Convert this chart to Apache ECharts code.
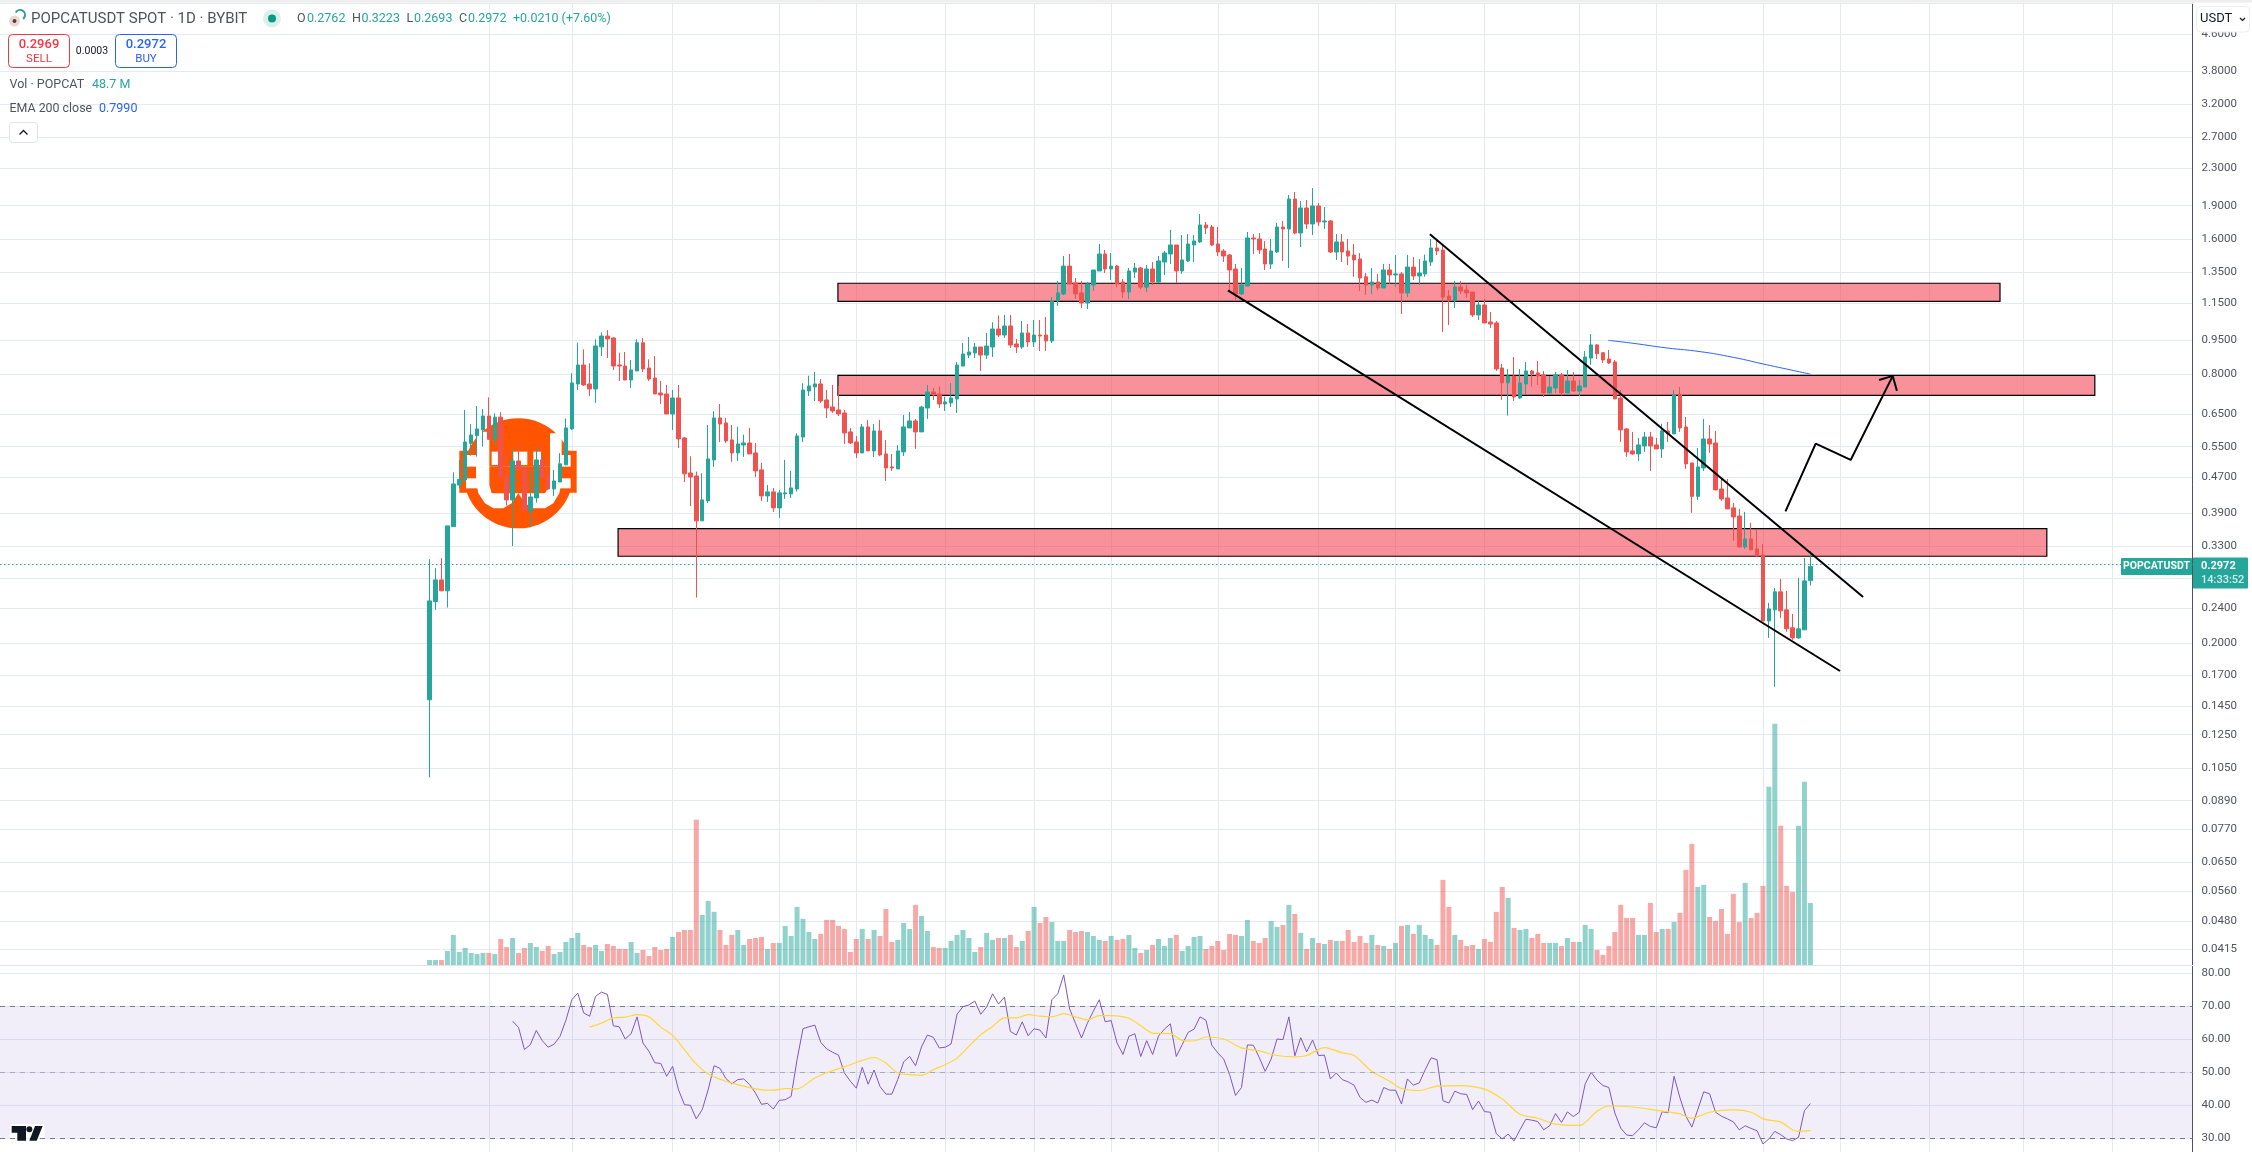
<!DOCTYPE html>
<html>
<head>
<meta charset="utf-8">
<style>html,body{margin:0;padding:0;background:#fff}#container{width:2252px;height:1152px}</style>
<script src="https://cdn.jsdelivr.net/npm/echarts@6/dist/echarts.min.js"></script>
</head>
<body>
<div id="container"></div>
<script>
// daily candles (first candle = day 0)
var opens=[.1496,.2480,.2772,.2620,.3646,.4517,.4636,.5598,.5823,.5996,
.6441,.5724,.6404,.4714,.4183,.5113,.4906,.3954,.4226,.5139,
.4730,.4426,.4588,.5010,.6027,.7595,.8373,.7595,.7403,.9194,
.9718,.9622,.8373,.8329,.7753,.8121,.9390,.8247,.7832,.7252,
.7214,.6509,.7067,.5754,.4806,.4730,.3756,.4162,.5139,.6377,
.6215,.5695,.5327,.5549,.5607,.5327,.4881,.4270,.4359,.4015,
.4315,.4315,.4426,.5782,.7327,.7478,.7595,.6996,.6747,.6645,
.6543,.5935,.5636,.5327,.6089,.5382,.5965,.5300,.4958,.4906,
.5355,.6058,.6280,.5935,.6713,.7289,.7214,.6852,.6890,.7031,
.8329,.8814,.8908,.9186,.8814,.9186,1.0079,.9770,1.0236,.9329,
.9186,.9873,.9427,.9770,.9770,.9475,1.1640,1.2068,1.3930,1.2770,
1.2130,1.1520,1.2640,1.3583,1.4822,1.3723,1.3930,1.2835,1.2192,1.3513,
1.3793,1.2500,1.3723,1.2835,1.4225,1.4822,1.5526,1.3583,1.4300,1.5526,
1.5770,1.7210,1.7030,1.5607,1.5055,1.4745,1.3723,1.2068,1.2570,1.6095,
1.6013,1.5210,1.4080,1.4977,1.7030,1.6858,1.9670,1.6513,1.8780,1.7300,
1.8975,1.7477,1.7567,1.4977,1.5770,1.5055,1.4745,1.4446,1.3180,1.2640,
1.2835,1.2445,1.3653,1.3307,1.3380,1.2130,1.3860,1.3240,1.3380,1.4225,
1.5290,1.5132,1.1940,1.1640,1.2500,1.2318,1.2192,1.0834,1.1405,1.0448,
1.0395,.8247,.7640,.7912,.7068,.7594,.8121,.8039,.7955,.7252,
.7440,.7955,.7252,.7713,.7327,.7477,.8680,.9285,.8920,.8636,
.8505,.7068,.6027,.5382,.5300,.5522,.5783,.5550,.5438,.5965,
.5875,.7176,.6087,.5060,.4260,.4931,.5724,.5607,.4426,.4226,
.4015,.3851,.3285,.3422,.3252,.3152,.2245,.2376,.2607,.2376,
.2166,.2057,.2144,.2762];
var highs=[.3084,.2944,.3099,.3660,.4822,.5139,.6645,.6172,.6781,.6679,
.7088,.6531,.6565,.5410,.5438,.5588,.4923,.4881,.5484,.5598,
.5182,.4881,.5320,.6361,.8024,.9394,.9077,.8447,.9558,.9907,
1.0027,.9664,.8923,.8953,.8593,.9558,.9622,.8622,.8768,.7713,
.7557,.7365,.7557,.5782,.5237,.4840,.4798,.6149,.6599,.6852,
.6377,.6149,.6096,.5852,.6058,.5607,.5061,.4517,.4449,.4404,
.5139,.4856,.5897,.7621,.7926,.8079,.7793,.7365,.7557,.7517,
.6645,.6058,.5813,.6183,.6312,.6183,.6312,.5695,.5300,.5549,
.6473,.6577,.6344,.6781,.7557,.7441,.7491,.7113,.7634,.8507,
.9378,.9671,.9378,.9186,.9873,1.0434,1.0805,1.0834,1.0834,.9573,
1.0502,1.0339,1.0556,1.0556,1.0717,1.1880,1.2902,1.4668,1.4822,1.3100,
1.2902,1.2835,1.3653,1.5607,1.5132,1.4900,1.4000,1.3035,1.3793,1.4153,
1.3860,1.4000,1.4225,1.4668,1.5055,1.6772,1.5526,1.6343,1.6427,1.6343,
1.8210,1.7477,1.7210,1.7030,1.5210,1.4822,1.4080,1.3793,1.6600,1.6427,
1.6513,1.5850,1.6013,1.7390,1.7567,2.0080,2.0395,1.9470,1.9570,2.0815,
1.9270,1.8880,1.7657,1.6427,1.6427,1.6013,1.5607,1.4900,1.3443,1.3793,
1.3380,1.4080,1.4080,1.4745,1.3513,1.4745,1.4590,1.4446,1.4770,1.6013,
1.5931,1.5450,1.2318,1.2902,1.2902,1.2640,1.2192,1.1700,1.1760,1.0997,
1.0502,.8418,.8205,.8726,.8205,.8505,.8163,.8549,.8121,.7912,
.8079,.8039,.8163,.8079,.7753,.9000,.9815,.9320,.8920,.9047,
.8593,.7365,.6057,.5935,.5754,.5935,.5935,.5754,.6191,.6248,
.7365,.7477,.6408,.5060,.5465,.6345,.6148,.5965,.4660,.4660,
.4119,.3994,.3934,.3719,.3585,.3335,.2463,.2660,.2786,.2620,
.2327,.2800,.3104,.3223];
var lows=[.1004,.2376,.2620,.2405,.3646,.4442,.4596,.5253,.5227,.5500,
.5695,.5549,.4636,.4061,.3300,.4840,.3940,.3632,.4126,.4674,
.4404,.4270,.4588,.5010,.5996,.7365,.7517,.7138,.6890,.8768,
.8681,.8163,.7713,.7753,.7441,.8121,.8079,.7713,.7214,.6852,
.6509,.5996,.5465,.4588,.4052,.2531,.3756,.4119,.4958,.5636,
.5607,.5087,.5113,.5218,.5300,.4706,.4162,.4140,.3933,.3814,
.4205,.4226,.4367,.5636,.7138,.6960,.6890,.6377,.6543,.6441,
.5578,.5578,.5191,.5327,.5382,.5218,.5243,.4612,.4856,.4906,
.5243,.6058,.5438,.5935,.6344,.6996,.6713,.6611,.6747,.6543,
.8329,.8681,.8681,.8121,.8637,.8727,.9671,.9622,.9140,.8908,
.9094,.9186,.9186,.9000,.9000,.9378,1.1350,1.2006,1.2640,1.1760,
1.1227,1.1170,1.2255,1.3583,1.3443,1.2968,1.2480,1.1820,1.1760,1.3100,
1.2380,1.2192,1.2640,1.2770,1.3307,1.4080,1.2770,1.3380,1.4225,1.4225,
1.5690,1.6427,1.5450,1.4668,1.4225,1.2192,1.1700,1.2006,1.2570,1.4822,
1.4822,1.3653,1.3723,1.4900,1.4300,1.3793,1.6427,1.5365,1.6858,1.6343,
1.7130,1.6858,1.4900,1.4373,1.4225,1.4000,1.3180,1.2255,1.2006,1.2068,
1.2318,1.2445,1.2706,1.2530,1.0890,1.1880,1.2968,1.2640,1.3180,1.3930,
1.4745,.9925,1.0285,1.1227,1.2068,1.1820,1.0717,1.0556,1.0395,1.0130,
.8121,.6996,.6455,.6960,.7032,.7214,.7490,.7555,.7103,.7214,
.7252,.7160,.7252,.7290,.7140,.7477,.8378,.8636,.8460,.8420,
.7032,.5637,.5220,.5272,.5113,.5355,.4856,.5438,.5191,.5637,
.5875,.5935,.4906,.3913,.4183,.4856,.5327,.4404,.4162,.3994,
.3388,.3269,.3252,.3235,.3120,.2245,.2057,.1599,.2280,.2122,
.2036,.2047,.2144,.2693];
var closes=[.2488,.2772,.2620,.3660,.4541,.4652,.5636,.5842,.6027,.6441,
.5715,.6404,.4714,.4183,.5113,.4881,.3954,.4247,.5139,.4698,
.4426,.4612,.5036,.6058,.7634,.8373,.7557,.7403,.9232,.9718,
.9573,.8329,.8329,.7753,.8163,.9390,.8205,.7793,.7214,.7176,
.6509,.7067,.5724,.4783,.4706,.3756,.4183,.5165,.6377,.6183,
.5666,.5327,.5578,.5607,.5300,.4856,.4270,.4359,.4015,.4337,
.4337,.4449,.5813,.7365,.7517,.7595,.6960,.6713,.6611,.6509,
.5904,.5607,.5327,.6089,.5382,.5965,.5272,.4930,.4930,.5382,
.6089,.6280,.5935,.6747,.7289,.7176,.6852,.6925,.7067,.8373,
.8861,.8954,.9186,.8814,.9231,1.0079,.9770,1.0236,.9280,.9186,
.9873,.9427,.9770,.9720,.9475,1.1640,1.2130,1.3930,1.2706,1.2068,
1.1520,1.2706,1.3653,1.4822,1.3723,1.3930,1.2706,1.2192,1.3583,1.3793,
1.2500,1.3723,1.2835,1.4300,1.4900,1.5526,1.3583,1.4373,1.5607,1.5850,
1.7210,1.6945,1.5526,1.4977,1.4668,1.3653,1.2068,1.2640,1.6095,1.6013,
1.5132,1.4080,1.5055,1.7030,1.6858,1.9670,1.6513,1.8780,1.7300,1.8975,
1.7477,1.7567,1.4977,1.5770,1.4977,1.4668,1.4373,1.3100,1.2640,1.2835,
1.2445,1.3653,1.3307,1.3380,1.2130,1.3860,1.3240,1.3443,1.4300,1.5290,
1.5055,1.1880,1.1640,1.2500,1.2255,1.2130,1.0834,1.1405,1.0395,1.0339,
.8205,.7640,.7915,.7103,.7634,.8121,.7998,.7912,.7252,.7477,
.7955,.7252,.7713,.7327,.7517,.8726,.9285,.8875,.8593,.8460,
.7032,.5996,.5355,.5300,.5550,.5783,.5522,.5438,.5965,.5875,
.7176,.6057,.5035,.4260,.4956,.5724,.5578,.4404,.4205,.3994,
.3832,.3285,.3422,.3235,.3136,.2245,.2388,.2607,.2364,.2155,
.2057,.2155,.2758,.2972];
// volume in millions of POPCAT
var volumes=[3.9,3.9,3.9,11,23.6,10.2,13.4,9.4,8.6,9.4,
9.4,8.6,20.4,14.1,21.2,9.4,13.4,17.3,14.1,11,
14.9,8.6,10.2,18.1,21.2,25.2,15.7,14.1,15.7,11,
16.5,14.9,12.6,12.6,18.1,9.4,11.8,7.1,14.1,11.8,
12.6,22,25.9,27.5,27.5,114,39.3,50.3,41.7,27.5,
15.7,23.6,27.5,15.7,20.4,21.2,22,12.6,17.3,17.3,
30.7,22.8,45.6,36.2,25.9,20.4,24.4,35.4,35.4,30.7,
28.3,10.2,20.4,28.3,20.4,27.5,22.8,44,18.1,19.7,
33,28.3,47.2,38.5,26.7,14.1,13.4,13.4,18.9,23.6,
27.5,21.2,10.2,14.1,25.2,19.7,21.2,21.2,23.6,14.1,
18.9,26.7,45.6,33,37.7,33.8,18.9,18.9,27.5,25.9,
26.7,25.9,22.8,19.7,18.9,22.8,19.7,20.4,23.6,13.4,
9.4,11.8,15.7,20.4,14.9,21.2,23.6,11,14.9,22,
22.8,12.6,14.9,18.9,11.8,24.4,23.6,22.8,35.4,18.9,
17.3,21.2,34.6,29.9,31.4,47.2,40.1,25.2,12.6,21.2,
17.3,16.5,19.7,18.9,18.9,27.5,18.1,22.8,17.3,23.6,
15.7,14.9,12.6,17.3,30.7,31.4,24.4,31.4,23.6,20.4,
15.7,66.8,45.6,23.6,19.7,14.9,15.7,12.6,20.4,18.1,
41.7,61.3,52.7,29.1,27.5,28.3,21.2,24.4,17.3,17.3,
17.3,14.9,21.2,18.1,18.1,31.4,28.3,11.8,7.9,14.9,
25.9,47.2,36.9,36.9,23.6,23.6,48.7,25.9,28.3,28.3,
33.8,40.9,74.7,95.1,61.3,62.9,37.7,34.6,44,24.4,
55.8,33.8,64.5,36.9,40.9,62.1,139.9,189.4,109.3,62.1,
57.4,109.3,143.8,48.7];
// RSI 14, first value belongs to day 14
var rsiStart=14;
var rsiValues=[65.4,63.5,56.8,58.3,62.6,59.5,57.5,58.4,60.8,65.7,
71.9,73.9,67.9,66.9,72.9,74.2,73.5,64,63.7,60,
61.6,66.7,58.8,56.3,52.8,52.6,48.7,51.7,44.6,40.1,
39.9,35.8,38.6,44.6,51.9,51.1,48,46.4,47.7,47.9,
46.2,43.6,40.2,40.5,38.8,41.4,41.6,42.6,53.7,63.1,
63.7,64.2,59,57,56,55.1,49.7,47.2,45.1,51.4,
46.3,50.6,45.6,43.3,43.3,47.7,53.1,54.7,51.9,57.6,
61.2,60.5,57.3,57.5,58.5,67.5,69.8,70.3,71.5,67.5,
69.7,73.7,70.6,72.7,62.3,61.2,65.2,61,63.1,62.7,
60.3,71.9,73.7,79.4,69.1,64.7,60.3,64.8,68.4,71.9,
65.2,65.6,58.8,55.3,60.8,61.6,54.7,59.5,55.3,60.9,
63,64.6,54.7,58.3,62,63,66.7,65.7,58.1,55.8,
53.9,49.2,42.9,45.3,58.2,58.1,54.4,50.2,53.9,60,
59.8,66.7,54.9,60.4,56.1,59.7,55,55.1,47.9,49.7,
47.7,47,46,42.3,40.8,41.5,40.6,45.3,44.5,44.5,
40.3,47.9,46,46.7,50.7,54.3,53.7,41.3,40.6,44.2,
43.4,43.2,38.6,41.2,38,37.8,31.3,29.7,31.2,29.1,
32.5,35.7,35.4,35,32.5,33.7,37.4,34.7,37.9,36.5,
37.8,46.4,49.9,47.5,45.9,45.3,37.6,33,30.9,30.7,
32.5,34.6,33.5,33.1,38,37.6,48.7,42.1,36.6,33.3,
38.6,44,43.4,37.8,36.6,35.8,34.9,32.5,33.7,32.9,
32.2,28.2,29.7,32,31,29.7,29.2,30.2,38.3,40.43];
// RSI moving average, read at these days
var rsiMaDays=[27,29,31,33,35,37,39,41,43,45,47,50,53,56,58,60,62,65,68,71,73,75,77,79,81,83,85,87,89,91,93,95,97,99,101,103,105,107,109,111,113,
115,118,120,122,125,127,129,131,134,137,140,143,146,148,151,154,156,159,162,164,167,170,174,178,181,184,187,190,194,197,199,203,207,211,213,216,220,223,225,228,230,231,233];
var rsiMaValues=[63.6,64.8,66.4,66.6,67.4,66.7,63.6,61.1,56.8,52.4,49.4,47.2,45.7,44.6,44.5,45,44.9,48.2,50.4,52.2,53.5,54.4,52.7,49.7,49.2,49,50.7,52.2,54.2,57.8,61.3,63.8,66.4,66.4,67.4,66.9,66.7,67.7,66.7,65.8,67.1,
67.1,66.3,64,61.8,61.6,59.6,59.4,60.6,60,57.3,56.4,55,54.6,55,57.4,55.8,55,50.2,47.2,45,44.4,45.7,45.9,44.8,41.8,37.2,36,34.2,33.8,38.1,39.7,39.4,38.4,37.3,36,37.8,38.5,37.8,35.8,34.8,32.5,32,32.23];
// EMA 200, only the part that shows
var emaDays=[198.9,203.1,208.8,214.4,220,225.6,233];
var emaValues=[.9507,.9362,.914,.897,.871,.8386,.799];

var priceTicks=[4.6,3.8,3.2,2.7,2.3,1.9,1.6,1.35,1.15,.95,.8,.65,.55,.47,.39,.33,.28,.24,.2,.17,.145,.125,.105,.089,.077,.065,.056,.048,.0415];
var rsiTicks=[30,40,50,60,70,80];
var gridDays=[10,24,41,59,72,87,102,115,133,150,163,178,194,207,225,238,253,269,284];
var lastPrice=.2972;

// drawings: zones [from day, to day, top price, bottom price]
var zones=[[68.9,265,1.275,1.162],[68.9,281,.7938,.7164],[31.8,272.9,.3609,.3131]];
var upperLineDays=[168.8,241.9], upperLinePrices=[1.6405,.2539];
var lowerLineDays=[134.7,238], lowerLinePrices=[1.2297,.1735];
var arrowDays=[228.8,233.9,239.8,246.9], arrowPrices=[.3945,.5587,.5138,.7917];
var arrowHeadDays=[244.6,246.9,247.6], arrowHeadPrices=[.7752,.7917,.7338];

var lead=72, totalBars=370;
var UP='#26a69a', DOWN='#ef5350', GRIDC='#e3ebf1', TXT='#50535e';
var FONT='Roboto, "Liberation Sans", sans-serif';

var categories=[];
for(var i=0;i<totalBars;i++){categories.push(i-lead);}

var candleData=[], volData=[];
for(var i=0;i<lead;i++){candleData.push('-');volData.push('-');}
for(var i=0;i<opens.length;i++){
  candleData.push([opens[i],closes[i],lows[i],highs[i]]);
  volData.push({value:volumes[i],itemStyle:{color:closes[i]>=opens[i]?'rgba(38,166,154,0.5)':'rgba(239,83,80,0.5)'}});
}
function pairs(a,b){
  var r=[];
  for(var i=0;i<a.length;i++){r.push([a[i],b[i]]);}
  return r;
}
var rsiData=[];
for(var i=0;i<rsiValues.length;i++){rsiData.push([rsiStart+i,rsiValues[i]]);}

function drawnLine(days,prices,width){
  return {type:'line',xAxisIndex:1,yAxisIndex:0,data:pairs(days,prices),symbol:'none',silent:true,z:6,
    lineStyle:{color:'#000',width:width||2}};
}

var zoneAreas=[];
for(var i=0;i<zones.length;i++){
  zoneAreas.push([{coord:[zones[i][0],zones[i][2]]},{coord:[zones[i][1],zones[i][3]]}]);
}

var dayAxisMin=-lead-.5, dayAxisMax=totalBars-lead-.5;

function dayAxis(gridIndex,top){
  return {type:'value',gridIndex:gridIndex,min:dayAxisMin,max:dayAxisMax,position:'top',
    axisLine:{show:top,onZero:false,lineStyle:{color:GRIDC}},
    axisTick:{show:false,customValues:gridDays},axisLabel:{show:false,customValues:gridDays},
    splitLine:{show:true,lineStyle:{color:GRIDC,width:1}}};
}

var logoOrange='#ff5500';
function poly(points,color,z){return {type:'polygon',shape:{points:points},style:{fill:color},z:z||1,silent:true};}
function box(x,y,w,h,color){return poly([[x,y],[x+w,y],[x+w,y+h],[x,y+h]],color);}
var logo={type:'group',x:450,y:410,scaleX:1/3,scaleY:1/3,silent:true,children:[
  {type:'circle',shape:{cx:205,cy:190,r:165},style:{fill:logoOrange},z:1},
  box(28,122,72,126,logoOrange),
  box(300,122,80,126,logoOrange),
  box(48,135,40,35,'#fff'),box(48,205,40,30,'#fff'),
  box(325,135,37,35,'#fff'),box(325,205,37,30,'#fff'),
  poly([[78,65],[118,65],[118,170],[300,170],[300,70],[335,70],[335,215],[328,250],[310,280],[285,295],[250,295],[225,280],[205,250],[185,280],[160,295],[130,295],[105,280],[85,250],[78,215]],'#fff'),
  poly([[118,170],[300,170],[300,225],[285,250],[125,250],[118,225]],logoOrange),
  box(125,125,25,40,'#fff'),box(190,125,42,40,'#fff'),box(250,125,25,40,'#fff')
]};
var tvLogo={type:'group',x:0,y:1090,scaleX:1/3,scaleY:1/3,silent:true,children:[
  {type:'rect',shape:{x:30,y:102,width:103,height:42},style:{fill:'#fff'},z:90},
  {type:'polygon',shape:{points:[[35,108],[78,108],[78,152],[52,152],[52,128],[35,128]]},style:{fill:'#131722'},z:91},
  {type:'circle',shape:{cx:88,cy:118,r:9},style:{fill:'#131722'},z:91},
  {type:'polygon',shape:{points:[[105,108],[128,108],[110,152],[88,152]]},style:{fill:'#131722'},z:91}
]};

function txt(x,y,text,color,size,extra){
  var s={x:x,y:y,text:text,fill:color,font:(extra&&extra.weight?extra.weight+' ':'')+size+'px '+FONT,
    textAlign:extra&&extra.align||'left',textVerticalAlign:'middle'};
  return {type:'text',style:s,z:100,silent:true};
}
function rbox(x,y,w,h,r,stroke,fill,lw){
  return {type:'rect',shape:{x:x,y:y,width:w,height:h,r:r},style:{fill:fill||'#fff',stroke:stroke,lineWidth:lw||1},z:99,silent:true};
}
function fill(x,y,w,h,c,r){return {type:'rect',shape:{x:x,y:y,width:w,height:h,r:r||0},style:{fill:c},z:98,silent:true};}

var overlays=[
  fill(0,0,2252,2.5,'#eeeeee'),
  logo,tvLogo,
  // legend block
  {type:'circle',shape:{cx:14.5,cy:21,r:5.5},style:{fill:'#ead9d0'},z:100,silent:true},
  {type:'circle',shape:{cx:14.5,cy:21,r:2},style:{fill:'#5a3a3a'},z:100,silent:true},
  {type:'arc',shape:{cx:20,cy:15,r:5,startAngle:-2.6,endAngle:.9},style:{stroke:'#2aa198',lineWidth:2,fill:'none'},z:100,silent:true},
  txt(31,19,'POPCATUSDT SPOT · 1D · BYBIT','#50535e',15),
  {type:'circle',shape:{cx:272,cy:18.5,r:9},style:{fill:'#daf0ec'},z:100,silent:true},
  {type:'circle',shape:{cx:272,cy:18.5,r:4},style:{fill:'#089981'},z:100,silent:true},
  txt(297,18.5,'O','#50535e',12.5),txt(307,18.5,'0.2762',UP,12.5),
  txt(352,18.5,'H','#50535e',12.5),txt(361.5,18.5,'0.3223',UP,12.5),
  txt(406.5,18.5,'L','#50535e',12.5),txt(414,18.5,'0.2693',UP,12.5),
  txt(459,18.5,'C','#50535e',12.5),txt(468,18.5,'0.2972',UP,12.5),
  txt(513,18.5,'+0.0210 (+7.60%)',UP,12.5),
  rbox(8.5,34.5,61,33,4,'#f23645'),
  txt(39,44.5,'0.2969','#f23645',13,{align:'center',weight:500}),
  txt(39,59,'SELL','#f23645',11.5,{align:'center'}),
  txt(92,51.5,'0.0003','#131722',10.5,{align:'center'}),
  rbox(115.5,34.5,61,33,4,'#2962ff'),
  txt(146,44.5,'0.2972','#2962ff',13,{align:'center',weight:500}),
  txt(146,59,'BUY','#2962ff',11.5,{align:'center'}),
  txt(9.5,84.5,'Vol · POPCAT','#50535e',12.5),
  txt(92,84.5,'48.7 M',UP,12.5),
  txt(9.5,108.5,'EMA 200 close','#50535e',12.4),
  txt(99,108.5,'0.7990','#2962ff',12.5),
  rbox(9.5,122.5,28,20,3,'#e0e3eb'),
  {type:'polyline',shape:{points:[[19.5,134.5],[23.5,130.5],[27.5,134.5]]},style:{stroke:'#131722',lineWidth:1.3,fill:'none'},z:100,silent:true},
  // USDT button
  rbox(2196.5,6.5,53,25.5,4,'#eeeeee'),
  txt(2200,19,'USDT','#131722',13),
  {type:'polyline',shape:{points:[[2240,18],[2242.5,20.5],[2245,18]]},style:{stroke:'#131722',lineWidth:1.2,fill:'none'},z:100,silent:true},
  // last price tags
  fill(2121,558,71,17,UP,1),
  txt(2156.5,566.5,'POPCATUSDT','#fff',10.5,{align:'center',weight:700}),
  fill(2193,557.5,55,31,UP,1),
  txt(2201,566.5,'0.2972','#fff',11,{weight:700}),
  txt(2201,580,'14:33:52','#cfeeea',11,{weight:500})
];

var dom=document.getElementById('container');
var myChart=echarts.init(dom);
var option={
  animation:false,
  backgroundColor:'#fff',
  textStyle:{fontFamily:FONT},
  grid:[
    {left:0,right:59.4,top:3.3,height:961.7},
    {left:0,right:59.4,top:700,height:265},
    {left:0,right:59.4,top:965,height:187}
  ],
  xAxis:[
    {type:'category',gridIndex:0,data:categories,boundaryGap:true,axisLine:{show:false},axisTick:{show:false},axisLabel:{show:false},splitLine:{show:false}},
    dayAxis(0,true),
    {type:'category',gridIndex:1,data:categories,boundaryGap:true,axisLine:{show:true,onZero:false,lineStyle:{color:'#e0e3eb'}},axisTick:{show:false},axisLabel:{show:false},splitLine:{show:false}},
    dayAxis(2,false)
  ],
  yAxis:[
    {type:'log',gridIndex:0,position:'right',logBase:10,min:.03823,max:5.383,
      axisLine:{show:true,onZero:false,lineStyle:{color:TXT}},axisTick:{show:false,customValues:priceTicks},
      axisLabel:{color:TXT,fontSize:11.5,fontFamily:FONT,margin:9,customValues:priceTicks,formatter:function(v){return Number(v).toFixed(4);}},
      splitLine:{show:true,lineStyle:{color:GRIDC,width:1}}},
    {type:'value',gridIndex:1,min:0,max:208,show:false},
    {type:'value',gridIndex:2,position:'right',min:25.76,max:82.42,
      axisLine:{show:true,onZero:false,lineStyle:{color:TXT}},axisTick:{show:false,customValues:rsiTicks},
      axisLabel:{color:TXT,fontSize:11.5,fontFamily:FONT,margin:9,customValues:rsiTicks,formatter:function(v){return Number(v).toFixed(2);}},
      splitLine:{show:true,lineStyle:{color:GRIDC,width:1}}}
  ],
  series:[
    {type:'line',xAxisIndex:1,yAxisIndex:0,data:[],silent:true,z:1,
      markArea:{silent:true,itemStyle:{color:'rgba(242,54,69,0.55)',borderColor:'#000',borderWidth:1.2},data:zoneAreas},
      markLine:{silent:true,symbol:'none',label:{show:false},lineStyle:{color:UP,type:[1.5,2.5],width:1},data:[{yAxis:lastPrice}]}},
    {type:'bar',xAxisIndex:2,yAxisIndex:1,data:volData,barWidth:5,silent:true,z:2},
    {type:'candlestick',xAxisIndex:0,yAxisIndex:0,data:candleData,barWidth:4,silent:true,z:3,
      itemStyle:{color:UP,color0:DOWN,borderColor:UP,borderColor0:DOWN,borderWidth:1}},
    {type:'line',xAxisIndex:1,yAxisIndex:0,data:pairs(emaDays,emaValues),symbol:'none',smooth:true,silent:true,z:4,
      lineStyle:{color:'#2962ff',width:1}},
    drawnLine(upperLineDays,upperLinePrices),
    drawnLine(lowerLineDays,lowerLinePrices),
    drawnLine(arrowDays,arrowPrices),
    drawnLine(arrowHeadDays,arrowHeadPrices),
    {type:'line',xAxisIndex:3,yAxisIndex:2,data:rsiData,symbol:'none',silent:true,z:3,
      lineStyle:{color:'#7e57c2',width:1},
      markArea:{silent:true,itemStyle:{color:'rgba(126,87,194,0.1)'},data:[[{yAxis:70},{yAxis:30}]]},
      markLine:{silent:true,symbol:'none',label:{show:false},
        lineStyle:{color:'#787b86',type:[5,5],width:1},
        data:[{yAxis:70},{yAxis:50,lineStyle:{color:'#a9a9b8',type:[5,5],width:1}},{yAxis:30}]}},
    {type:'line',xAxisIndex:3,yAxisIndex:2,data:pairs(rsiMaDays,rsiMaValues),symbol:'none',smooth:.3,silent:true,z:3,
      lineStyle:{color:'#fdd835',width:1.2}}
  ],
  graphic:{elements:overlays}
};
if (option && typeof option === "object") {
    myChart.setOption(option, true);
}
</script>
</body>
</html>
